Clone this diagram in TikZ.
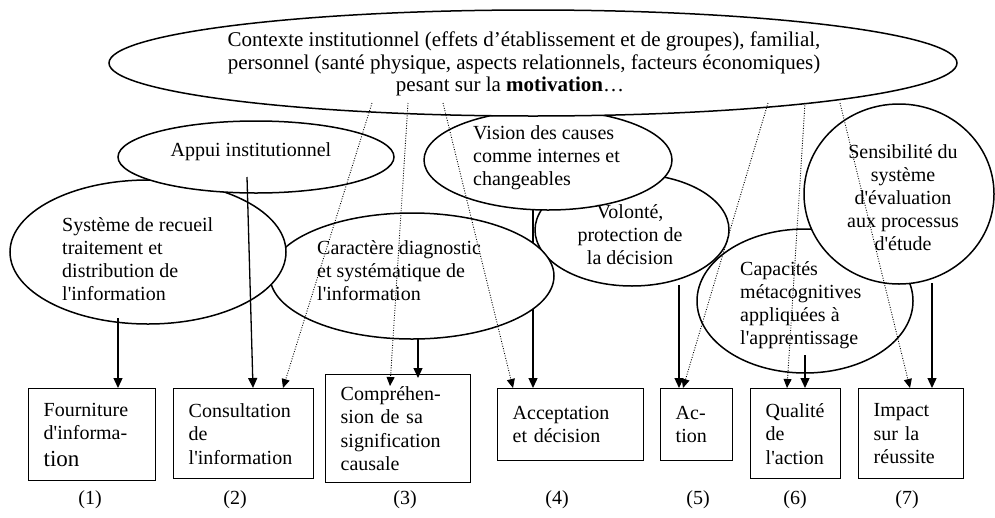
\documentclass[tikz,border=0pt]{standalone}
\usepackage{fontspec}
\setmainfont{Liberation Serif}
\usetikzlibrary{shapes.geometric,arrows.meta,calc}
\newcommand{\sq}{\textquotesingle}
\begin{document}
\begin{tikzpicture}[x=1pt,y=-1pt,
  ell/.style={ellipse, draw, line width=1.5pt, fill=white, inner sep=0pt},
  txt/.style={inner sep=0pt, font=\fontsize{20}{23}\selectfont, align=left},
  ctxt/.style={inner sep=0pt, font=\fontsize{20}{23}\selectfont, align=center},
  box/.style={draw, line width=1.4pt, inner xsep=15pt, inner ysep=0pt, align=left,
    anchor=north west, font=\fontsize{20}{23.5}\selectfont},
  lab/.style={inner sep=0pt, font=\fontsize{20}{23}\selectfont},
  arr/.style={-{Triangle[length=10pt,width=9pt]}, line width=1.3pt},
  dotarr/.style={-{Triangle[length=9pt,width=8pt]}, line width=0.9pt, dash pattern=on 0.9pt off 1.6pt}]
\fill[white] (0,0) rectangle (995,517);
\useasboundingbox (0,0) rectangle (995,517);

% boxes
\node[box, text width=97pt, minimum height=92pt] (b1) at (28,388) {Fourniture\\d\sq informa-\\[3pt]{\fontsize{23}{26}\selectfont tion}};
\node[box, text width=110pt, minimum height=90pt] (b2) at (173,388) {Consultation\\de\\l\sq information};
\node[box, text width=115pt, minimum height=108pt] (b3) at (325,374) {Compréhen-\\sion de sa\\signification\\causale};
\node[box, text width=116pt, minimum height=72pt] (b4) at (497,388) {Acceptation\\et décision};
\node[box, text width=42pt, minimum height=72pt] (b5) at (660,388) {Ac-\\tion};
\node[box, text width=60pt, minimum height=90pt] (b6) at (750,388) {Qualité\\de\\l\sq action};
\node[box, text width=75pt, minimum height=90pt] (b7) at (858,388) {Impact\\sur la\\réussite};

% labels
\node[lab] (l1) at (90,500) {(1)};
\node[lab] (l2) at (235,500) {(2)};
\node[lab] (l3) at (405,500) {(3)};
\node[lab] (l4) at (557,500) {(4)};
\node[lab] (l5) at (698,500) {(5)};
\node[lab] (l6) at (795,500) {(6)};
\node[lab] (l7) at (907,500) {(7)};

% arrow partly hidden behind ellipses
\coordinate (s4) at (533,210);
\draw[arr] (s4) -- (s4 |- b4.north);

% ellipses (back to front)
\node[ell, minimum width=216pt, minimum height=144pt] (cap) at (805,301) {};
\node[ell, minimum width=194pt, minimum height=112pt] (vol) at (632,230) {};
\node[ell, minimum width=284pt, minimum height=126pt] (car) at (412,276) {};
\node[ell, minimum width=276pt, minimum height=144pt] (sys) at (148,252) {};
\node[ell, minimum width=276pt, minimum height=72pt] (app) at (256,157) {};
\node[ell, minimum width=190pt, minimum height=180pt] (sen) at (899,194) {};
\node[ell, minimum width=248pt, minimum height=100pt] (vis) at (548,160) {};
\node[ell, minimum width=848pt, minimum height=106pt] (big) at (533,63) {};

% texts
\node[ctxt, font=\fontsize{21}{22.5}\selectfont] (bigt) at (524,64) {Contexte institutionnel (effets d’établissement et de groupes), familial,\\personnel (santé physique, aspects relationnels, facteurs économiques)\\pesant sur la \textbf{motivation}…\hspace*{28pt}};
\node[ctxt] (appt) at (251,152) {Appui institutionnel};
\node[txt, anchor=west] (syst) at (62,259) {Système de recueil\\traitement et\\distribution de\\l\sq information};
\node[txt, anchor=west] (cart) at (317,271) {Caractère diagnostic\\et systématique de\\l\sq information};
\node[txt, anchor=west] (vist) at (473,158) {Vision des causes\\comme internes et\\changeables};
\node[ctxt] (volt) at (630,235) {Volonté,\\protection de\\la décision};
\node[txt, anchor=west] (capt) at (740,305) {Capacités\\métacognitives\\appliquées à\\l\sq apprentissage};
\node[ctxt] (sent) at (903,198) {Sensibilité du\\système\\d\sq évaluation\\aux processus\\d\sq étude};

% solid arrows
\coordinate (s1) at (118,318);
\draw[arr] (s1) -- (s1 |- b1.north);
\coordinate (s2) at (247,177);
\draw[arr] (s2) -- ($(b2.north west)+(80,0)$);
\coordinate (s3) at (418,338);
\draw[arr] (s3) -- ($(s3 |- b3.north)+(0,4)$);
\coordinate (s5) at (679,285);
\draw[arr] (s5) -- (s5 |- b5.north);
\coordinate (s6) at (805,355);
\draw[arr] (s6) -- (s6 |- b6.north);
\coordinate (s7) at (932,283);
\draw[arr] (s7) -- (s7 |- b7.north);

% dotted arrows from the context ellipse
\coordinate (d1) at (372,103);
\coordinate (d2) at (408,103);
\coordinate (d3) at (443,103);
\coordinate (d4) at (768,103);
\coordinate (d5) at (805,103);
\coordinate (d6) at (840,103);
\draw[dotarr] (d1) -- ($(b2.north west)+(110,0)$);
\draw[dotarr] (d2) -- ($(b3.north west)+(65,12)$);
\draw[dotarr] (d3) -- ($(b4.north west)+(16,0)$);
\draw[dotarr] (d4) -- ($(b5.north west)+(23,0)$);
\draw[dotarr] (d5) -- ($(b6.north west)+(37,0)$);
\draw[dotarr] (d6) -- ($(b7.north west)+(52,0)$);
\end{tikzpicture}
\end{document}
